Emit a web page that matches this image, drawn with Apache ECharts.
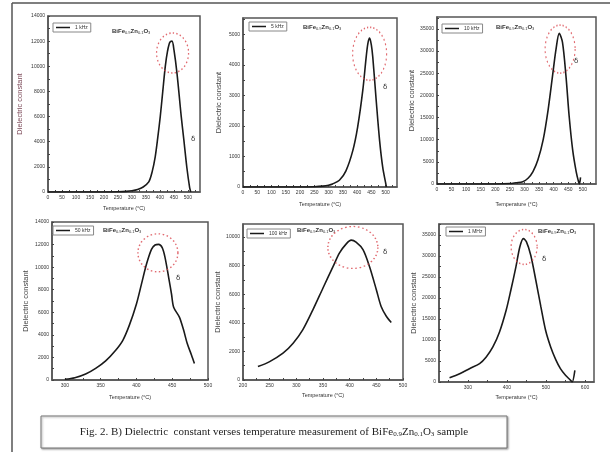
<!DOCTYPE html>
<html><head><meta charset="utf-8">
<script src="https://cdn.jsdelivr.net/npm/echarts@6/dist/echarts.min.js"></script>
<style>html,body{margin:0;padding:0;background:#fff}#c{width:610px;height:452px}</style>
</head><body><div id="c"></div><script>
// ---- data ----
const p1T=[0,50,100,150,200,250,280,300,320,340,360,372,383,392,401,410,419,427,435,443,450,461,476,485,496,506,510];
const p1V=[0,0,0,0,0,20,50,100,200,400,800,1600,2800,4300,6000,8000,10000,11200,11900,12000,11300,9400,6000,4200,1950,350,0];
const p2T=[0,50,100,150,200,250,280,300,314,338,361,385,402,420,432,438,444,450,455,467,479,490,500,503];
const p2V=[0,0,0,0,0,10,30,60,100,220,530,1190,1960,3160,4260,4700,4870,4650,4260,2840,1520,640,140,0];
const p3T=[0,50,100,150,200,250,271,294,312,329,346,364,381,396,408,419,430,442,453,465,477,485,488,492];
const p3V=[0,0,0,0,0,100,300,530,1290,2800,5450,10000,16800,24400,30450,34000,32000,24400,15300,7700,2800,530,0,1500];
const p4T=[300,314,329,343,357,371,381,390,400,407,414,421,426,431,436,440,445,449,452,460,466,471,477,481];
const p4V=[60,200,530,1030,1700,2640,3520,4840,6740,8500,10260,11580,11960,12020,11730,10850,9090,7620,6450,5570,4400,3230,2200,1470];
const p5T=[228,250,275,294,312,331,350,369,381,394,403,412,425,437,450,459,469,478];
const p5V=[935,1285,1870,2570,3500,4900,6430,7940,8880,9530,9770,9630,9110,7940,6310,5140,4440,4020];
const p6T=[253,279,304,330,347,364,381,398,410,423,433,442,450,461,474,487,499,512,525,537,550,563,567,574];
const p6V=[1030,1980,3170,4370,5950,8330,11900,17060,21830,27380,32140,34130,33330,30160,24210,17860,12300,8330,5320,3170,1590,400,0,2780];
// dashed-circle centres (data units)
const peakRings=[[445,11060],[444,4360],[422,30450],[430,11270],[406,9260],[444,32140]];
// legend names
const legendNames=['1 kHz','5 kHz','10 kHz','50 kHz','100 kHz','1 MHz'];
// tick labels
const xLab1=[0,50,100,150,200,250,300,350,400,450,500];
const xLab4=[300,350,400,450,500];
const xLab5=[200,250,300,350,400,450,500];
const xLab6=[300,400,500,600];
const yLab1=[0,2000,4000,6000,8000,10000,12000,14000];
const yLab2=[0,1000,2000,3000,4000,5000];
const yLab3=[0,5000,10000,15000,20000,25000,30000,35000];
const yLab5=[0,2000,4000,6000,8000,10000];

function steps(a,b,s){const r=[];for(let v=a;v<=b+1e-9;v+=s)r.push(v);return r;}

const panels=[
 {T:p1T,V:p1V,xl:xLab1,xt:steps(0,525,25),yl:yLab1,yt:steps(0,14000,1000),xMin:0,xMax:543,yMax:14000,
  g:{left:48,top:16,width:152,height:176},xGap:13,yGap:24,ring:[32,40],lg:[53,23],yc:'#7d4b5a'},
 {T:p2T,V:p2V,xl:xLab1,xt:steps(0,525,25),yl:yLab2,yt:steps(0,5500,500),xMin:0,xMax:540,yMax:5530,
  g:{left:243,top:18,width:154,height:169},xGap:14,yGap:20,ring:[34,53],lg:[249,22],yc:'#444'},
 {T:p3T,V:p3V,xl:xLab1,xt:steps(0,525,25),yl:yLab3,yt:steps(0,37500,2500),xMin:0,xMax:545,yMax:37700,
  g:{left:437,top:17,width:159,height:167},xGap:17,yGap:20,ring:[30,48],lg:[442,24],yc:'#444'},
 {T:p4T,V:p4V,xl:xLab4,xt:steps(300,500,25),yl:yLab1,yt:steps(0,14000,1000),xMin:282,xMax:500,yMax:14000,
  g:{left:52,top:222,width:156,height:158},xGap:14,yGap:22,ring:[40,38],lg:[53,226],yc:'#444'},
 {T:p5T,V:p5V,xl:xLab5,xt:steps(200,500,25),yl:yLab5,yt:steps(0,10000,1000),xMin:200,xMax:500,yMax:10900,
  g:{left:243,top:224,width:160,height:156},xGap:12,yGap:20,ring:[50,42],lg:[247,229],yc:'#444'},
 {T:p6T,V:p6V,xl:xLab6,xt:steps(250,600,50),yl:yLab3,yt:steps(0,37500,2500),xMin:226,xMax:623,yMax:37600,
  g:{left:439,top:224,width:155,height:158},xGap:12,yGap:21,ring:[26,35],lg:[446,227],yc:'#444'}
];
const titlePos=[[112,28],[303,24],[496,24],[103,227],[297,227],[538,228]];
const deltaPos=[[191,136],[383,84],[574,58],[176,275],[383,249],[542,256]];

const grid=[],xAxis=[],yAxis=[],series=[],legend=[];
const axisCol='#555';
const plain=v=>String(v);
panels.forEach((p,i)=>{
  grid.push(Object.assign({show:true,borderColor:axisCol,borderWidth:1.5,backgroundColor:'#fff'},p.g));
  xAxis.push({type:'value',gridIndex:i,min:p.xMin,max:p.xMax,
    name:'Temperature (\u00B0C)',nameLocation:'middle',nameGap:p.xGap,
    nameTextStyle:{fontSize:5.5,color:'#333',fontFamily:'Liberation Sans'},
    axisLine:{show:true,lineStyle:{color:axisCol,width:1.5}},
    axisTick:{show:true,inside:true,length:2,customValues:p.xt,lineStyle:{color:'#444'}},
    axisLabel:{show:true,customValues:p.xl,formatter:plain,fontSize:5,color:'#333',margin:3,fontFamily:'Liberation Sans'},
    splitLine:{show:false}});
  yAxis.push({type:'value',gridIndex:i,min:0,max:p.yMax,
    name:'Dielectric constant',nameLocation:'middle',nameGap:p.yGap,
    nameTextStyle:{fontSize:7.5,color:p.yc,fontFamily:'Liberation Sans'},
    axisLine:{show:true,lineStyle:{color:axisCol,width:1.5}},
    axisTick:{show:true,inside:true,length:2,customValues:p.yt,lineStyle:{color:'#444'}},
    axisLabel:{show:true,customValues:p.yl,formatter:plain,fontSize:5,color:'#333',margin:3,fontFamily:'Liberation Sans'},
    splitLine:{show:false}});
  series.push({type:'line',name:legendNames[i],xAxisIndex:i,yAxisIndex:i,
    data:p.T.map((t,k)=>[t,p.V[k]]),smooth:0.3,symbol:'none',
    lineStyle:{color:'#1a1a1a',width:1.6},itemStyle:{color:'#1a1a1a'},z:3});
  series.push({type:'scatter',name:'ring'+i,xAxisIndex:i,yAxisIndex:i,
    data:[peakRings[i]],symbol:'circle',symbolSize:p.ring,silent:true,
    itemStyle:{color:'rgba(0,0,0,0)',borderColor:'#d9434b',borderWidth:1.4,borderType:[1.5,2.5]},z:4});
  legend.push({data:[{name:legendNames[i],icon:'rect'}],left:p.lg[0],top:p.lg[1],itemWidth:14,itemHeight:1.5,
    padding:[2,3],itemGap:2,borderColor:'#888',borderWidth:1,backgroundColor:'#fff',
    textStyle:{fontSize:5,color:'#333',fontFamily:'Liberation Sans'},selectedMode:false});
});

const graphic=[
  {type:'line',shape:{x1:12,y1:3,x2:610,y2:3},style:{stroke:'#555',lineWidth:1.5}},
  {type:'line',shape:{x1:12,y1:3,x2:12,y2:452},style:{stroke:'#555',lineWidth:1.5}},
  {type:'rect',shape:{x:41,y:416,width:466,height:32},
    style:{fill:'#fff',stroke:'#777',lineWidth:1,shadowBlur:2,shadowColor:'rgba(0,0,0,0.35)',shadowOffsetX:1,shadowOffsetY:1}},
  {type:'text',x:274,y:432,style:{text:'Fig. 2. B) Dielectric  constant verses temperature measurement of BiFe{s|0.9}Zn{s|0.1}O{s|3} sample',
    rich:{s:{fontSize:7,fontFamily:'Liberation Serif',fill:'#222',color:'#222',padding:[5,0,0,0]}},
    fontSize:11,fontFamily:'Liberation Serif',fill:'#222',align:'center',verticalAlign:'middle'}}
];
titlePos.forEach(([x,y])=>graphic.push({type:'text',x:x,y:y,style:{text:'BiFe{s|0.9}Zn{s|0.1}O{s|3}',
  rich:{s:{fontSize:4,fill:'#333',color:'#333',padding:[3,0,0,0]}},fontSize:6,fontWeight:'bold',fill:'#333',fontFamily:'Liberation Sans'}}));
deltaPos.forEach(([x,y])=>graphic.push({type:'text',x:x,y:y,style:{text:'\u03B4',fontSize:7,fill:'#333',fontFamily:'DejaVu Sans'}}));

const chart=echarts.init(document.getElementById('c'),null,{renderer:'canvas'});
chart.setOption({backgroundColor:'#fff',animation:false,grid,xAxis,yAxis,series,legend,graphic});
</script></body></html>
